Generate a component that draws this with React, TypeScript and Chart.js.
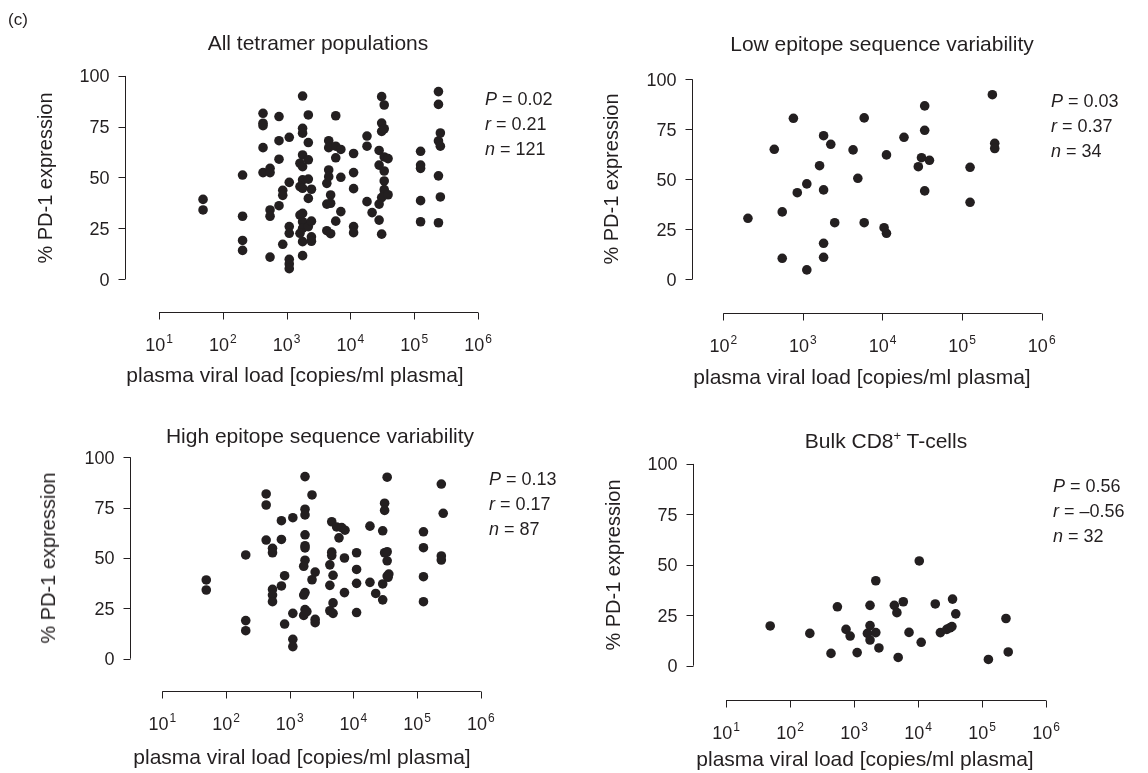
import React, { useEffect, useRef } from "react";
import { Chart, registerables } from "chart.js";

Chart.register(...registerables);

const W = 1148;
const H = 773;
const INK = "#231f20";
const FONT = '"Liberation Sans", Arial, Helvetica, sans-serif';

// Axis tick values
const pd1Ticks = [0, 25, 50, 75, 100];
const loadTicksFrom10 = [10, 100, 1e3, 1e4, 1e5, 1e6];
const loadTicksFrom100 = [100, 1e3, 1e4, 1e5, 1e6];

// Each pair: [plasma viral load (copies/ml plasma), % PD-1 expression]
const allTetramer: [number, number][] = [
  [49, 39.2], [49, 34.0],
  [204, 51.2], [204, 30.9], [204, 19.0], [204, 14.1],
  [427, 81.6], [427, 76.7], [427, 75.5], [427, 64.7], [427, 52.4],
  [550, 54.5], [550, 52.4], [550, 34.0], [550, 30.9], [550, 10.8],
  [760, 80.0], [760, 68.1], [760, 59.0], [760, 36.1],
  [870, 43.7], [870, 41.2], [870, 17.1],
  [1100, 69.8], [1100, 47.6], [1100, 25.8], [1100, 22.5], [1100, 9.7], [1100, 7.4], [1100, 5.1],
  [1780, 90.1], [1780, 74.2], [1780, 71.8], [1780, 61.1], [1620, 57.0], [1780, 55.3], [1780, 48.8],
  [1620, 45.5], [1780, 44.7], [1780, 32.3], [1620, 31.5], [1780, 28.2], [1780, 24.9], [1620, 22.5],
  [1780, 18.4], [1780, 11.5],
  [2190, 80.8], [2190, 67.2], [2190, 58.7], [2190, 49.2], [2190, 39.7], [2190, 25.8],
  [2450, 44.2], [2450, 28.5], [2450, 20.8], [2450, 18.6],
  [4270, 47.1], [4570, 68.1], [4570, 64.7], [4570, 53.7], [4570, 50.4], [4900, 41.4], [4270, 36.9],
  [4900, 37.3], [4270, 23.8], [4900, 22.3],
  [5890, 80.4], [5890, 65.4], [5890, 59.7], [5890, 28.5],
  [7080, 63.8], [7080, 50.1], [7080, 33.2],
  [11220, 61.8], [11220, 52.4], [11220, 44.5], [11220, 25.8], [11220, 22.8],
  [18200, 70.4], [18200, 65.4], [18200, 38.1],
  [21880, 32.7],
  [28180, 63.3], [28180, 56.1], [28180, 36.9], [28180, 29.0],
  [30900, 89.8], [33880, 85.7], [30900, 76.8], [30900, 72.7], [33880, 74.0], [33880, 60.1], [33880, 53.2],
  [33880, 48.3], [33880, 44.0], [33880, 41.5], [30900, 40.1], [38900, 59.3], [38900, 41.5], [30900, 22.1],
  [125900, 62.9], [125900, 56.1], [125900, 54.5], [125900, 38.6], [125900, 28.2],
  [240000, 92.3], [240000, 86.0], [240000, 68.0], [240000, 50.8], [240000, 27.7],
  [257000, 71.9], [257000, 65.4], [257000, 40.4],
];

const lowVariability: [number, number][] = [
  [204, 30.5], [437, 65.0], [550, 33.7], [550, 10.5], [760, 80.5], [850, 43.3],
  [1120, 47.7], [1120, 4.7], [1620, 56.8], [1820, 71.8], [1820, 44.7], [1820, 18.0], [1820, 11.0],
  [2240, 67.5], [2510, 28.3], [4270, 64.7], [4900, 50.5], [5890, 80.7], [5890, 28.3],
  [10470, 25.8], [11220, 23.0], [11220, 62.2], [18620, 71.0], [28180, 56.3], [30900, 60.8],
  [33880, 86.7], [33880, 74.5], [33880, 44.2], [38900, 59.5], [125900, 56.0], [125900, 38.5],
  [240000, 92.3], [257000, 68.0], [257000, 65.4],
];

const highVariability: [number, number][] = [
  [49, 39.1], [49, 34.1], [204, 51.5], [204, 18.9], [204, 13.9],
  [427, 81.8], [427, 76.3], [427, 58.9],
  [537, 54.8], [537, 52.6], [537, 34.4], [537, 31.6], [537, 28.3],
  [741, 68.5], [741, 59.2], [741, 36.1],
  [832, 41.2], [832, 17.2],
  [1120, 70.0], [1120, 22.5], [1120, 9.6], [1120, 6.0],
  [1740, 90.4], [1740, 74.2], [1740, 71.4], [1740, 61.5], [1740, 56.1], [1740, 55.0], [1740, 48.9],
  [1660, 45.9], [1740, 32.8], [1660, 31.6], [1740, 24.4], [1660, 21.5], [1860, 23.4],
  [2240, 81.3], [2240, 39.2], [2510, 43.0], [2510, 19.5], [2510, 17.9],
  [4570, 68.0], [5460, 65.4], [6550, 65.1], [7380, 63.8], [5940, 60.0], [4570, 52.9], [4570, 51.2],
  [4270, 46.6], [4270, 36.4], [4790, 41.4], [4790, 27.7], [4270, 23.8], [4790, 22.5],
  [7240, 50.0], [7240, 32.8],
  [11220, 52.6], [11220, 44.3], [11220, 37.4], [11220, 22.9],
  [18200, 65.8], [18200, 37.9], [22390, 32.4],
  [28840, 63.5], [28840, 37.1], [28840, 29.2],
  [33880, 90.1], [30900, 77.2], [30900, 73.6], [30900, 52.6], [33880, 53.1], [33880, 48.6],
  [33880, 41.0], [36000, 42.0], [35000, 40.4],
  [125900, 63.0], [125900, 55.1], [125900, 40.7], [125900, 28.3],
  [240000, 86.7], [240000, 51.0], [240000, 49.0], [257000, 72.2],
];

const bulkCD8: [number, number][] = [
  [49, 19.7], [204, 16.0], [437, 6.1], [550, 29.2], [750, 18.0], [870, 14.7], [1120, 6.5],
  [1780, 29.9], [1780, 19.9], [1620, 16.0], [1780, 12.7], [2190, 42.1], [2190, 16.4], [2450, 8.8],
  [4270, 29.9], [4680, 26.3], [5890, 31.7], [4900, 4.1], [7240, 16.5], [10470, 51.9], [11220, 11.6],
  [18620, 30.6], [22390, 16.4], [28180, 18.0], [31620, 18.8], [33880, 19.4], [34670, 33.0],
  [38900, 25.7], [125900, 3.1], [237000, 23.4], [257000, 6.8],
];

type Box = { left: number; right: number; top: number; bottom: number };

type PanelSpec = {
  points: [number, number][];
  xTicks: number[];
  box: Box;
  xLim: [number, number];
  yLim: [number, number];
};

const panels: PanelSpec[] = [
  { points: allTetramer, xTicks: loadTicksFrom10, box: { left: 125, right: 490, top: 66, bottom: 311.7 }, xLim: [2.93, 1.542e6], yLim: [-16.1, 104.9] },
  { points: lowVariability, xTicks: loadTicksFrom100, box: { left: 691.7, right: 1055, top: 66, bottom: 313 }, xLim: [40.1, 1.469e6], yLim: [-16.85, 106.65] },
  { points: highVariability, xTicks: loadTicksFrom10, box: { left: 130, right: 495, top: 445, bottom: 690.7 }, xLim: [3.11, 1.671e6], yLim: [-15.9, 106.1] },
  { points: bulkCD8, xTicks: loadTicksFrom10, box: { left: 693.3, right: 1060, top: 450, bottom: 700 }, xLim: [3.08, 1.656e6], yLim: [-17.0, 106.9] },
];

// Classic detached axes: lines run only between the first and last tick.
function makeAxesPlugin(xTicks: number[]) {
  return {
    id: "detachedAxes",
    afterDraw(chart: any) {
      const { ctx, chartArea } = chart;
      const xs = chart.scales.x;
      const ys = chart.scales.y;
      const ax = Math.round(chartArea.left) + 0.5;
      const ay = Math.round(chartArea.bottom) + 0.5;
      ctx.save();
      ctx.strokeStyle = INK;
      ctx.fillStyle = INK;
      ctx.lineWidth = 1;

      // y axis
      ctx.beginPath();
      ctx.moveTo(ax, ys.getPixelForValue(pd1Ticks[pd1Ticks.length - 1]));
      ctx.lineTo(ax, ys.getPixelForValue(pd1Ticks[0]));
      for (const t of pd1Ticks) {
        const py = Math.round(ys.getPixelForValue(t)) + 0.5;
        ctx.moveTo(ax, py);
        ctx.lineTo(ax - 7, py);
      }
      // x axis
      ctx.moveTo(xs.getPixelForValue(xTicks[0]), ay);
      ctx.lineTo(xs.getPixelForValue(xTicks[xTicks.length - 1]), ay);
      for (const t of xTicks) {
        const px = Math.round(xs.getPixelForValue(t)) + 0.5;
        ctx.moveTo(px, ay);
        ctx.lineTo(px, ay + 7);
      }
      ctx.stroke();

      // y tick labels
      ctx.font = `18px ${FONT}`;
      ctx.textAlign = "right";
      ctx.textBaseline = "alphabetic";
      for (const t of pd1Ticks) {
        ctx.fillText(String(t), ax - 16, ys.getPixelForValue(t) + 6.5);
      }

      // x tick labels as powers of ten
      ctx.textAlign = "left";
      for (const t of xTicks) {
        const exp = String(Math.round(Math.log10(t)));
        ctx.font = `18px ${FONT}`;
        const wb = ctx.measureText("10").width;
        ctx.font = `12px ${FONT}`;
        const we = ctx.measureText(exp).width;
        const start = xs.getPixelForValue(t) - (wb + we + 1) / 2;
        const base = ay + 38;
        ctx.font = `18px ${FONT}`;
        ctx.fillText("10", start, base);
        ctx.font = `12px ${FONT}`;
        ctx.fillText(exp, start + wb + 1, base - 8);
      }
      ctx.restore();
    },
  };
}

function ScatterPanel({ spec }: { spec: PanelSpec }) {
  const ref = useRef<HTMLCanvasElement | null>(null);
  useEffect(() => {
    if (!ref.current) return;
    const { box } = spec;
    const chart = new Chart(ref.current, {
      type: "scatter",
      data: {
        datasets: [
          {
            data: spec.points.map(([load, pd1]) => ({ x: load, y: pd1 })),
            backgroundColor: INK,
            borderWidth: 0,
            pointRadius: 4.8,
            pointHoverRadius: 4.8,
            clip: false as any,
          },
        ],
      },
      options: {
        animation: false,
        responsive: false,
        devicePixelRatio: 1,
        events: [],
        layout: {
          padding: { left: box.left, top: box.top, right: W - box.right, bottom: H - box.bottom },
        },
        plugins: { legend: { display: false }, tooltip: { enabled: false } },
        scales: {
          x: { type: "logarithmic", min: spec.xLim[0], max: spec.xLim[1], display: false, bounds: "data" },
          y: { type: "linear", min: spec.yLim[0], max: spec.yLim[1], display: false, bounds: "data" },
        },
      },
      plugins: [makeAxesPlugin(spec.xTicks)],
    });
    return () => chart.destroy();
  }, [spec]);
  return (
    <canvas
      ref={ref}
      width={W}
      height={H}
      style={{ position: "absolute", left: 0, top: 0, width: W, height: H, pointerEvents: "none" }}
    />
  );
}

type TxtProps = {
  x: number;
  y: number;
  size: number;
  align?: "left" | "center";
  children: React.ReactNode;
};

// Text placed by its baseline
function Txt({ x, y, size, align = "left", children }: TxtProps) {
  return (
    <div
      style={{
        position: "absolute",
        left: x,
        top: y - 0.8465 * size,
        fontSize: size,
        lineHeight: `${size}px`,
        fontFamily: FONT,
        color: INK,
        whiteSpace: "nowrap",
        transform: align === "center" ? "translateX(-50%)" : undefined,
      }}
    >
      {children}
    </div>
  );
}

function YTitle({ x, y }: { x: number; y: number }) {
  return (
    <div
      style={{
        position: "absolute",
        left: x,
        top: y,
        fontSize: 20,
        lineHeight: "20px",
        fontFamily: FONT,
        color: INK,
        whiteSpace: "nowrap",
        transform: "translate(-50%, -50%) rotate(-90deg)",
      }}
    >
      % PD-1 expression
    </div>
  );
}

function Stats({ x, y, p, r, n }: { x: number; y: number; p: string; r: string; n: string }) {
  const rows: [string, string][] = [["P", p], ["r", r], ["n", n]];
  return (
    <>
      {rows.map(([k, v], i) => (
        <Txt key={k} x={x} y={y + i * 25} size={18}>
          <i>{k}</i> = {v}
        </Txt>
      ))}
    </>
  );
}

const X_TITLE = "plasma viral load [copies/ml plasma]";

export default function App() {
  return (
    <div style={{ position: "absolute", left: 0, top: 0, width: W, height: H, background: "#fff", overflow: "hidden" }}>
      {panels.map((p, i) => (
        <ScatterPanel key={i} spec={p} />
      ))}

      <Txt x={8} y={25} size={17}>(c)</Txt>

      <Txt x={318} y={50} size={21} align="center">All tetramer populations</Txt>
      <Txt x={882} y={51} size={21} align="center">Low epitope sequence variability</Txt>
      <Txt x={320} y={443} size={21} align="center">High epitope sequence variability</Txt>
      <Txt x={886} y={448} size={21} align="center">
        Bulk CD8<sup style={{ fontSize: 13, verticalAlign: "8px", lineHeight: 0 }}>+</sup> T-cells
      </Txt>

      <YTitle x={45} y={178} />
      <YTitle x={611} y={179} />
      <YTitle x={48} y={558} />
      <YTitle x={613} y={565} />

      <Txt x={295} y={382} size={21} align="center">{X_TITLE}</Txt>
      <Txt x={862} y={384} size={21} align="center">{X_TITLE}</Txt>
      <Txt x={302} y={764} size={21} align="center">{X_TITLE}</Txt>
      <Txt x={865} y={766} size={21} align="center">{X_TITLE}</Txt>

      <Stats x={485} y={105} p="0.02" r="0.21" n="121" />
      <Stats x={1051} y={107} p="0.03" r="0.37" n="34" />
      <Stats x={489} y={485} p="0.13" r="0.17" n="87" />
      <Stats x={1053} y={492} p="0.56" r="–0.56" n="32" />
    </div>
  );
}
